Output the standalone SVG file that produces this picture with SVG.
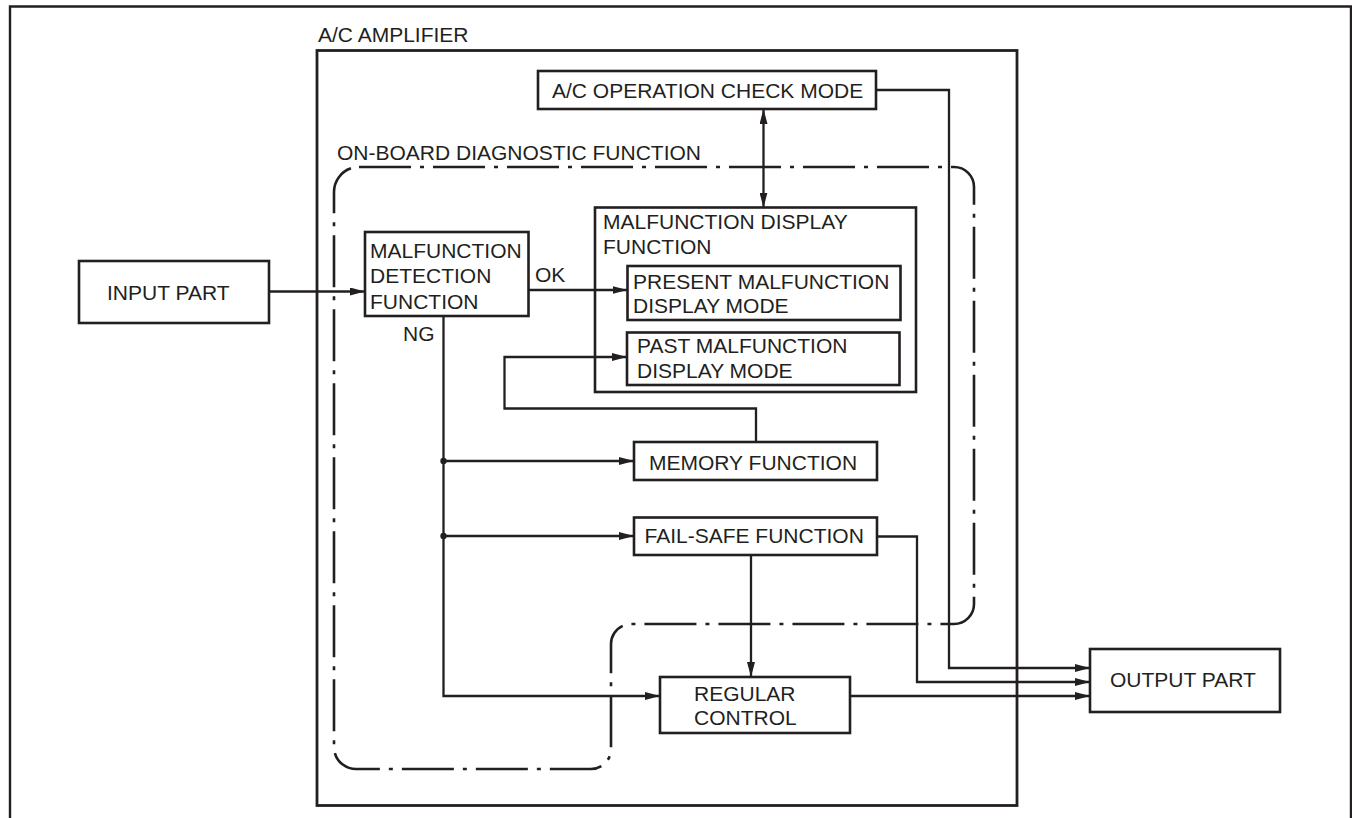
<svg xmlns="http://www.w3.org/2000/svg" width="1352" height="818" viewBox="0 0 1352 818">
<style>
text{font-family:"Liberation Sans",Arial,sans-serif;font-size:21px;fill:#231f20}
.box{fill:#fff;stroke:#231f20;stroke-width:2.6}
.frame{fill:none;stroke:#231f20;stroke-width:2.4}
.amp{fill:none;stroke:#231f20;stroke-width:2.8}
.conn{fill:none;stroke:#231f20;stroke-width:2.3}
.arr{marker-end:url(#ah)}
.dd{fill:none;stroke:#231f20;stroke-width:2.6;stroke-dasharray:52 9 4 9}
</style>
<defs>
<marker id="ah" markerUnits="userSpaceOnUse" markerWidth="16" markerHeight="8" viewBox="0 0 16 8" refX="15" refY="4" orient="auto-start-reverse">
<path d="M0,0 L15,4 L0,8 z" fill="#231f20"/>
</marker>
</defs>
<rect width="1352" height="818" fill="#fff"/>
<path class="frame" d="M10,818 V6.5 H1351 V818"/>

<g id="amplifier">
<rect class="amp" x="317" y="50.5" width="700" height="755"/>
<text x="318" y="41.5">A/C AMPLIFIER</text>
</g>

<g id="onboard-diagnostic">
<path class="dd" d="M359,167 H954 A20,20 0 0 1 974,187 V604 A20,20 0 0 1 954,624 H631 A20,20 0 0 0 611,644 V749 A20,20 0 0 1 591,769 H356 A22,22 0 0 1 334,747 V192 A25,25 0 0 1 359,167 Z"/>
<text x="337" y="159.5">ON-BOARD DIAGNOSTIC FUNCTION</text>
</g>

<g id="input-part">
<rect class="box" x="79" y="261" width="190" height="62"/>
<text x="107" y="299.5">INPUT PART</text>
</g>

<g id="output-part">
<rect class="box" x="1090" y="649" width="190" height="63"/>
<text x="1110" y="687">OUTPUT PART</text>
</g>

<g id="ac-operation-check">
<rect class="box" x="538" y="71" width="338" height="38"/>
<text x="552" y="98">A/C OPERATION CHECK MODE</text>
</g>

<g id="malfunction-detection">
<rect class="box" x="365" y="232" width="163.5" height="84"/>
<text x="370" y="258">MALFUNCTION</text>
<text x="370" y="282.5">DETECTION</text>
<text x="370" y="308.5">FUNCTION</text>
</g>

<g id="malfunction-display">
<rect class="box" x="595" y="207.5" width="321" height="184.5"/>
<text x="603" y="228.5">MALFUNCTION DISPLAY</text>
<text x="603" y="253.5">FUNCTION</text>
</g>

<g id="present-malfunction">
<rect class="box" x="627.5" y="266" width="273" height="54"/>
<text x="633" y="288.5">PRESENT MALFUNCTION</text>
<text x="633" y="313">DISPLAY MODE</text>
</g>

<g id="past-malfunction">
<rect class="box" x="627" y="332.5" width="272.5" height="52.5"/>
<text x="637" y="353">PAST MALFUNCTION</text>
<text x="637" y="377.5">DISPLAY MODE</text>
</g>

<g id="memory-function">
<rect class="box" x="634" y="442" width="243" height="38"/>
<text x="649" y="470">MEMORY FUNCTION</text>
</g>

<g id="fail-safe-function">
<rect class="box" x="634" y="517.5" width="243" height="37.5"/>
<text x="644.5" y="543">FAIL-SAFE FUNCTION</text>
</g>

<g id="regular-control">
<rect class="box" x="660" y="677" width="190" height="56"/>
<text x="694" y="701">REGULAR</text>
<text x="694" y="725">CONTROL</text>
</g>

<g id="connectors">
<path class="conn arr" d="M269,291.5 H365"/>
<path class="conn arr" d="M528.5,290 H627.5"/>
<path class="conn" marker-start="url(#ah)" marker-end="url(#ah)" d="M763.5,109 V207.5"/>
<path class="conn arr" d="M443.5,316 V696 H660"/>
<path class="conn arr" d="M443.5,461 H634"/>
<path class="conn arr" d="M443.5,536 H634"/>
<path class="conn arr" d="M756,442 V408.5 H504.5 V357 H627"/>
<path class="conn arr" d="M751,555 V677"/>
<path class="conn arr" d="M877,536.5 H917 V682 H1090"/>
<path class="conn arr" d="M876,90 H949 V668 H1090"/>
<path class="conn arr" d="M850,696 H1090"/>
<circle cx="443.5" cy="461" r="3.2" fill="#231f20"/>
<circle cx="443.5" cy="536" r="3.2" fill="#231f20"/>
<text x="535" y="282">OK</text>
<text x="403" y="341">NG</text>
</g>
</svg>
